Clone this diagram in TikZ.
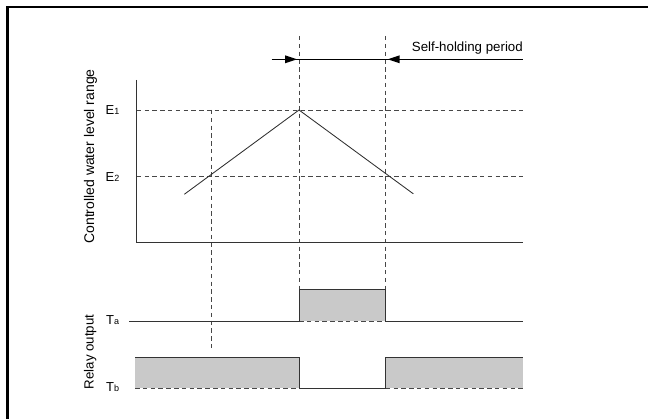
\documentclass[tikz,border=0pt]{standalone}
\usepackage{fontspec}
\setmainfont{Liberation Sans}
\newcommand{\lblsub}[1]{{\fontsize{9}{11}\selectfont #1}}
\begin{document}
\begin{tikzpicture}[x=1pt,y=-1pt,
  solidln/.style={draw=black!80,line width=0.95pt},
  dashln/.style={draw=black!72,line width=0.85pt,dash pattern=on 4.5pt off 3.3pt},
  fillbox/.style={fill=black!21,draw=none},
  frameln/.style={draw=black,line width=2.2pt},
  lbl/.style={inner sep=0pt,font=\fontsize{13}{15}\selectfont},
  bigtxt/.style={inner sep=0pt,font=\fontsize{13.3}{15}\selectfont},
  headtip/.style={fill=black,draw=none}]
\useasboundingbox (0,0) rectangle (648,419);
% frame
\draw[frameln] (7.5,420) -- (7.5,6.8) -- (649,6.8);

% key coordinates
\coordinate (ax0) at (136.7,242.6);
\coordinate (axtop) at (136.7,80);
\coordinate (axend) at (523.3,242.6);
\coordinate (peak) at (299,110);
\coordinate (lstart) at (184.3,194.3);
\coordinate (rend) at (413.3,193.8);

% gray fills
\fill[fillbox] (299,289.7) rectangle (385.7,321);
\fill[fillbox] (135,357.3) rectangle (299,388.3);
\fill[fillbox] (385.7,357.3) rectangle (523.3,388.3);

% dashed guide lines
\draw[dashln] (136.7,110) -- (523.3,110);
\draw[dashln] (136.7,176.7) -- (523.3,176.7);
\draw[dashln] (211.7,110) -- (211.7,350);
\draw[dashln] (299,36) -- (299,289.7);
\draw[dashln] (385.7,36) -- (385.7,289.7);
\draw[dashln] (299,321) -- (385.7,321);
\draw[dashln] (135,388.3) -- (299,388.3);
\draw[dashln] (385.7,388.3) -- (523.3,388.3);

% axes
\draw[solidln,line width=1.1pt] (axtop) -- (ax0) -- (axend);

% water level triangle
\draw[draw=black!82,line width=0.85pt] (lstart) -- (peak) -- (rend);

% self-holding arrows
\draw[draw=black,line width=0.95pt] (271.7,59.3) -- (523.3,59.3);
\fill[headtip] (297,59.3) -- (285,55.3) -- (285,63.3) -- cycle;
\fill[headtip] (387.7,59.3) -- (399.7,55.3) -- (399.7,63.3) -- cycle;

% relay Ta
\draw[solidln] (129.3,321) -- (299,321) -- (299,289.7) -- (385.7,289.7) -- (385.7,321) -- (523.3,321);
% relay Tb
\draw[solidln] (135,357.3) -- (299,357.3) -- (299,388.3) -- (385.7,388.3) -- (385.7,357.3) -- (523.3,357.3);

% labels
\node[bigtxt,anchor=base west] (shp) at (411.7,52) {Self-holding period};
\node[lbl,anchor=base west] (e1) at (105.5,114.8) {E\lblsub{1}};
\node[lbl,anchor=base west] (e2) at (105.5,181.5) {E\lblsub{2}};
\node[lbl,anchor=base west] (ta) at (106,325) {T\lblsub{a}};
\node[lbl,anchor=base west] (tb) at (106,392) {T\lblsub{b}};
\node[bigtxt,font=\fontsize{14}{16}\selectfont,anchor=base,rotate=90] (ylab) at (94,156.5) {Controlled water level range};
\node[bigtxt,anchor=base,rotate=90] (rlab) at (93.5,352) {Relay output};
\end{tikzpicture}
\end{document}
